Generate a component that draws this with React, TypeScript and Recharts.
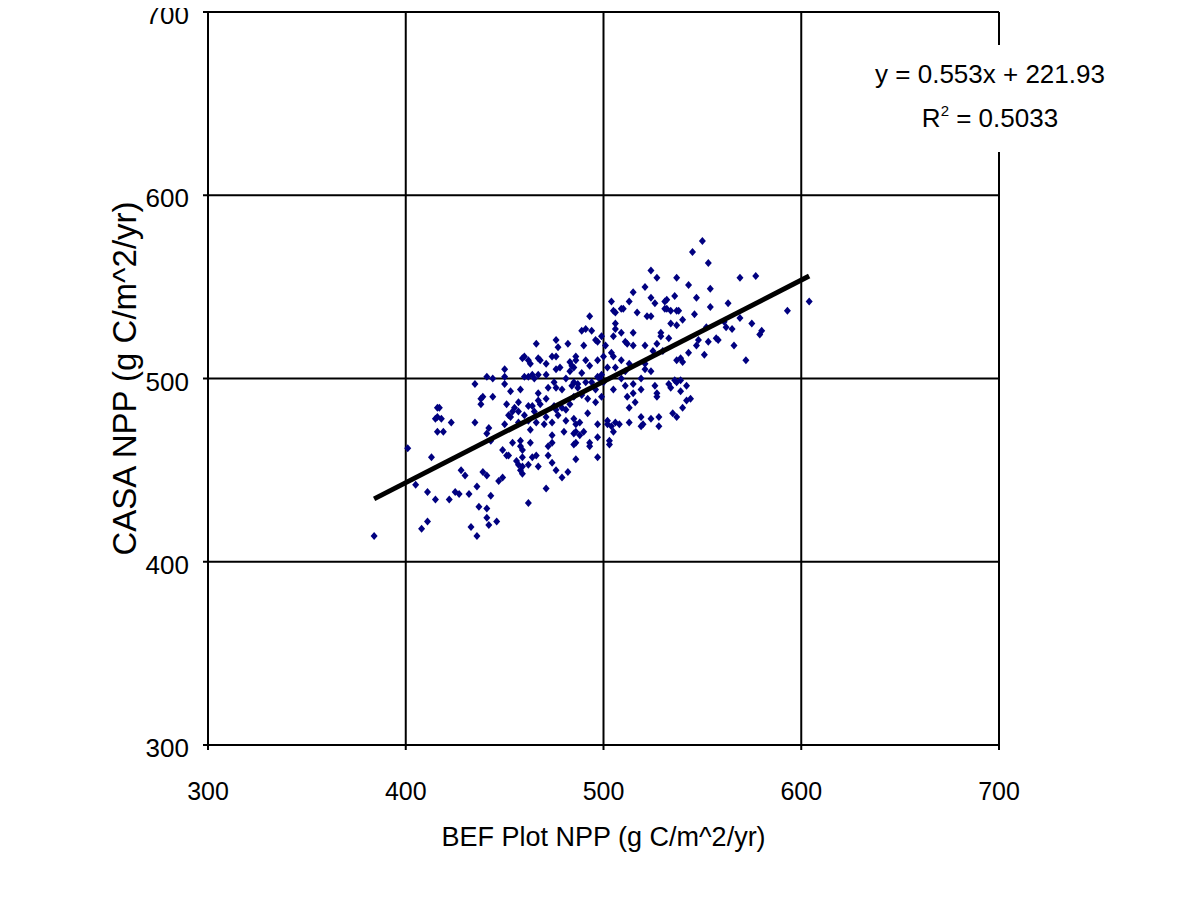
import { ScatterChart, Scatter, XAxis, YAxis, CartesianGrid, Label } from 'recharts';

// BEF plot NPP (x) and CASA NPP (y), g C/m^2/yr
const befNpp = [
  524, 527, 515, 521, 513, 504, 524, 526, 505, 506, 509, 510, 517, 522, 524, 506, 506, 493, 489, 491, 494, 509, 515, 529, 531, 531,
  550, 545, 553, 537, 543, 569, 577, 554, 536, 547, 532, 563, 554, 532, 534, 537, 538, 546, 540, 593, 604, 561, 569, 534, 537, 562, 565, 575, 580, 552,
  450, 441, 444, 450, 435, 450, 453, 439, 438, 444, 438, 451, 416, 417, 455, 416, 418, 415, 452, 453, 454, 423, 435, 450, 416, 419, 442, 441,
  466, 476, 482, 490, 496, 497, 499, 501, 505, 511, 512, 515, 521, 525, 527, 530, 529,
  459, 460, 462, 463, 467, 468, 471, 474, 476, 477,
  483, 484, 486, 486, 485, 491, 493, 497, 500, 504, 505, 506, 502, 509, 513, 521, 521, 524, 511, 519,
  460, 462, 464, 465, 467, 471, 475, 476, 478, 481, 483, 485, 489, 491, 494, 497, 498, 499, 500, 509, 511, 515, 515, 519, 526, 527, 527,
  458, 467, 472, 476, 479, 484, 487, 487, 489, 492, 496, 499, 505, 512, 516, 513,
  457, 462, 464, 468, 467, 471, 475, 476, 477, 479, 481, 483, 485, 496,
  457, 460, 465, 471, 481, 485, 492, 502, 506, 504, 508, 502, 513, 519, 524, 528, 520, 519, 528,
  457, 462, 466, 470, 474, 486, 488, 497, 505, 463, 474, 480, 485, 486, 488, 490, 497,
  533, 548, 553, 557, 558, 547, 566, 579, 543, 551, 537, 539, 540, 572, 536, 537, 539, 533, 534, 542, 539, 542, 544, 540, 535, 537,
  401, 413, 384, 405, 411, 415, 422, 425, 427, 428, 430, 432, 436, 439, 441, 443, 437, 441, 441, 442, 446, 449, 451, 452, 454, 443, 447, 449, 411, 408, 433, 436,
  458, 458, 459, 463, 474, 472, 485, 486, 493, 493, 503, 503, 456, 457, 459, 459, 458, 459, 462, 464, 466, 467, 472, 474, 476, 479, 482, 486, 497, 471, 462,
];

const casaNpp = [
  559, 555, 547, 550, 542, 542, 544, 541, 537, 536, 538, 538, 536, 534, 534, 530, 527, 534, 526, 527, 526, 525, 525, 525, 542, 538,
  575, 569, 563, 555, 551, 555, 556, 549, 545, 544, 543, 541, 539, 538, 537, 537, 537, 535, 532, 537, 542, 531, 533, 530, 529, 528, 527, 530, 526, 528,
  505, 501, 500, 501, 497, 497, 493, 490, 489, 490, 486, 486, 484, 484, 484, 479, 478, 478, 480, 479, 482, 476, 476, 475, 471, 471, 473, 470,
  519, 521, 519, 518, 521, 520, 523, 518, 523, 520, 519, 518, 518, 515, 519, 515, 523,
  511, 512, 510, 508, 511, 510, 508, 512, 512, 517,
  509, 507, 510, 512, 506, 510, 507, 510, 512, 514, 512, 506, 506, 510, 508, 508, 505, 504, 504, 500,
  501, 501, 502, 500, 502, 502, 498, 505, 506, 500, 504, 498, 503, 498, 498, 501, 500, 502, 498, 500, 496, 497, 492, 494, 496, 492, 490,
  494, 492, 495, 495, 494, 496, 497, 495, 491, 489, 494, 490, 494, 490, 487, 484,
  487, 485, 485, 486, 488, 489, 485, 483, 480, 484, 483, 486, 490, 487,
  482, 480, 482, 479, 477, 478, 481, 477, 476, 474, 475, 475, 476, 479, 478, 479, 475, 474, 474,
  476, 477, 476, 475, 476, 475, 476, 475, 471, 472, 469, 471, 470, 471, 469, 471, 468,
  522, 521, 520, 522, 521, 518, 518, 524, 514, 513, 510, 511, 509, 510, 499, 498, 499, 497, 495, 496, 493, 488, 489, 484, 481, 479,
  462, 457, 414, 442, 438, 434, 434, 438, 437, 450, 447, 437, 441, 449, 447, 436, 430, 429, 424, 420, 422, 461, 458, 458, 465, 466, 444, 446, 422, 418, 419, 414,
  466, 463, 461, 465, 465, 463, 464, 465, 465, 463, 466, 464, 455, 453, 452, 448, 450, 457, 453, 457, 458, 452, 458, 454, 450, 446, 449, 456, 457, 440, 432,
];

// linear fit ends: y = 0.553x + 221.93
const trendBef = [384, 604];
const trendCasa = [434.3, 555.9];

const axisTicks = [300, 400, 500, 600, 700];

const points = befNpp.map((x, i) => ({ x, y: casaNpp[i] }));
const trend = trendBef.map((x, i) => ({ x, y: trendCasa[i] }));

const FONT = '"Liberation Sans", Arial, sans-serif';

const Diamond = (props: any) => {
  const { cx, cy } = props;
  if (cx == null || cy == null) return <g />;
  return (
    <path
      d={`M${cx},${cy - 4}L${cx + 3.5},${cy}L${cx},${cy + 4}L${cx - 3.5},${cy}Z`}
      fill="#000080"
    />
  );
};

const App = () => {
  // cancel the body margin so the chart fills the page from its top-left corner
  return (
    <div style={{ position: 'relative', width: 1200, height: 904, margin: '-8px 0 0 -8px', background: '#fff' }}>
      <ScatterChart
        width={1200}
        height={904}
        margin={{ top: 12, right: 201, bottom: 99, left: 0 }}
      >
        <CartesianGrid stroke="#000" strokeWidth={2} />
        <XAxis
          type="number"
          dataKey="x"
          domain={[300, 700]}
          ticks={axisTicks}
          interval={0}
          height={60}
          stroke="#000"
          strokeWidth={2}
          tickSize={5}
          tickMargin={32}
          tick={{ fill: '#000', fontSize: 25, fontFamily: FONT }}
        >
          <Label
            value="BEF Plot NPP (g C/m^2/yr)"
            position="bottom"
            offset={22}
            style={{ fill: '#000', fontSize: 27, fontFamily: FONT }}
          />
        </XAxis>
        <YAxis
          type="number"
          dataKey="y"
          domain={[300, 700]}
          ticks={axisTicks}
          interval={0}
          width={208}
          stroke="#000"
          strokeWidth={2}
          tickSize={5}
          tickMargin={14}
          tick={{ fill: '#000', fontSize: 26, fontFamily: FONT, dy: 3 }}
        >
          <Label
            value="CASA NPP (g C/m^2/yr)"
            angle={-90}
            position="center"
            dx={20}
            style={{ fill: '#000', fontSize: 33, fontFamily: FONT }}
          />
        </YAxis>
        <Scatter data={points} shape={<Diamond />} isAnimationActive={false} />
        <Scatter
          data={trend}
          line={{ stroke: '#000', strokeWidth: 5 }}
          shape={() => <g />}
          isAnimationActive={false}
        />
      </ScatterChart>
      <div
        style={{
          position: 'absolute',
          left: 865,
          top: 45,
          width: 250,
          height: 107,
          background: '#fff',
          fontFamily: FONT,
          fontSize: 26,
          color: '#000',
          textAlign: 'center',
          lineHeight: '44px',
        }}
      >
        <div style={{ marginTop: 7 }}>y = 0.553x + 221.93</div>
        <div>
          R<sup style={{ fontSize: 15, verticalAlign: 'top', lineHeight: '30px' }}>2</sup> = 0.5033
        </div>
      </div>
    </div>
  );
};

export default App;
